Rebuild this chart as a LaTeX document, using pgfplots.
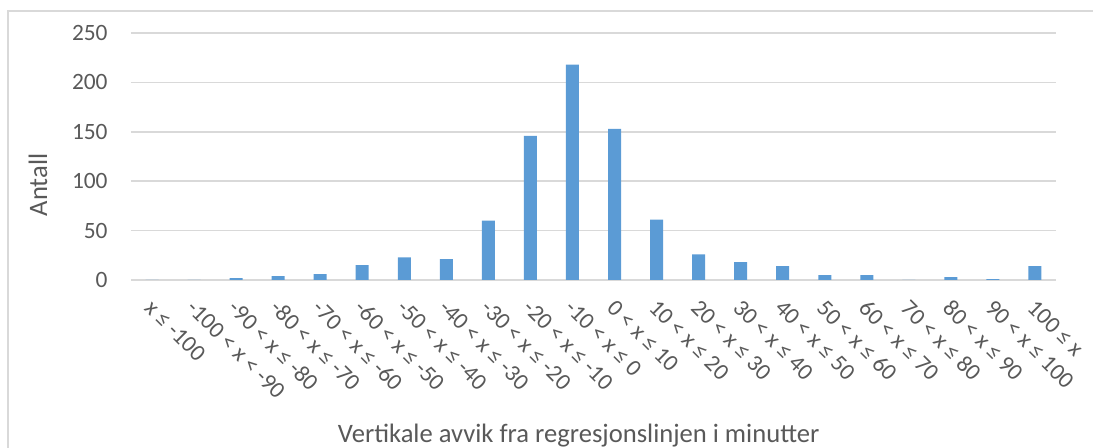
\documentclass[border=0pt]{standalone}
\usepackage{pgfplots}
\pgfplotsset{compat=1.18}
\usepackage{fontspec}
\setmainfont{Carlito}

\definecolor{barblue}{HTML}{5B9BD5}
\definecolor{gridgray}{HTML}{D9D9D9}
\definecolor{txtgray}{HTML}{595959}

\begin{document}
\begin{tikzpicture}
\begin{axis}[
    name=ax,
    at={(0,0)}, anchor=south west,
    scale only axis,
    width=462.5pt, height=123.5pt,
    ybar, bar width=6.5pt,
    xmin=-0.5, xmax=21.5,
    ymin=0, ymax=250,
    ytick={0,50,...,250},
    xtick={0,...,21},
    xticklabels={
        x ≤ -100, -100 < x < -90, -90 < x ≤ -80, -80 < x ≤ -70,
        -70 < x ≤ -60, -60 < x ≤ -50, -50 < x ≤ -40, -40 < x ≤ -30,
        -30 < x ≤ -20, -20 < x ≤ -10, -10 < x ≤ 0, 0 < x ≤ 10,
        10 < x ≤ 20, 20 < x ≤ 30, 30 < x ≤ 40, 40 < x ≤ 50,
        50 < x ≤ 60, 60 < x ≤ 70, 70 < x ≤ 80, 80 < x ≤ 90,
        90 < x ≤ 100, 100 ≤ x},
    major tick length=0pt,
    axis line style={draw=none},
    ymajorgrids,
    grid style={gridgray, line width=0.75pt},
    /pgf/number format/assume math mode=true,
    tick label style={font=\fontsize{11.7}{13}\selectfont, text=txtgray},
    yticklabel style={anchor=east, inner sep=0pt, xshift=-11.5pt},
    xticklabel style={inner sep=0pt, xshift=1pt, yshift=-9pt, rotate=-45, anchor=north west},
    xlabel={Vertikale avvik fra regresjonslinjen i minutter},
    ylabel={Antall},
    label style={font=\fontsize{13.3}{15}\selectfont, text=txtgray},
    xlabel style={at={(axis description cs:0.484,-0.628)}, anchor=center},
    ylabel style={at={(axis description cs:-0.1005,0.385)}, anchor=center, rotate=0},
]
% Antall per intervall
\addplot[fill=barblue, draw=none] coordinates {
(0,0) (1,0) (2,2) (3,4) (4,6) (5,15) (6,23) (7,21) (8,60) (9,146)
(10,218) (11,153) (12,61) (13,26) (14,18) (15,14) (16,5) (17,5)
(18,0) (19,3) (20,1) (21,14)
};
\end{axis}
% ramme (venstre og topp)
\draw[gridgray, line width=0.75pt] (-61.5pt,-84pt) -- (-61.5pt,134.5pt) -- (481pt,134.5pt);
\pgfresetboundingbox
\path[use as bounding box] (-65.5pt,-84pt) rectangle (481pt,140pt);
\end{tikzpicture}
\end{document}
